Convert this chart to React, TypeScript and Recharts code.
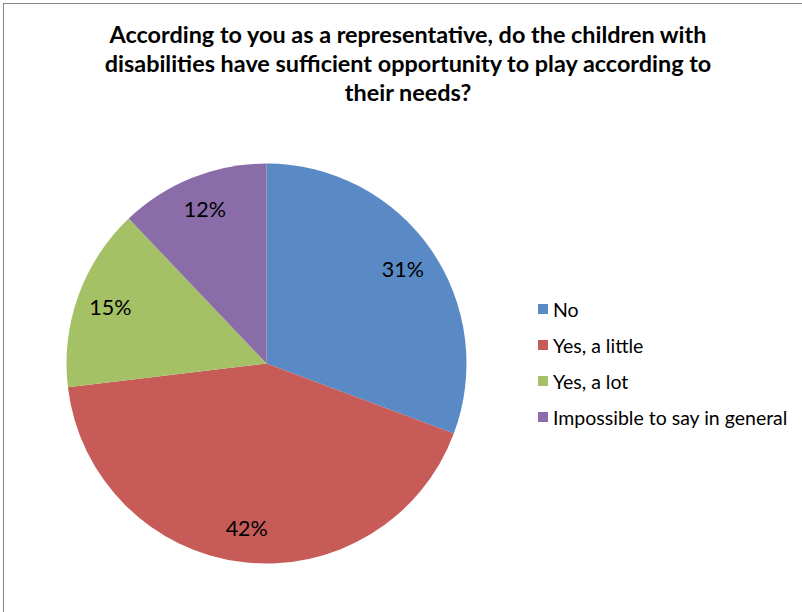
import { Legend, Pie, PieChart, Cell } from 'recharts';

const CATEGORIES = ['No', 'Yes, a little', 'Yes, a lot', 'Impossible to say in general'];
const SHARES = [30.7, 42.4, 14.8, 12.1];
const COLORS = ['#5A8AC6', '#C65B58', '#A4C165', '#8A6DA8'];

const TITLE_LINES = [
  'According to you as a representative, do the children with',
  'disabilities have sufficient opportunity to play according to',
  'their needs?',
];

const FONT = 'Lato, "Open Sans", sans-serif';
const RAD = Math.PI / 180;

const data = CATEGORIES.map((name, i) => ({ name, value: SHARES[i] }));

function renderLabel(props: any) {
  const { cx, cy, midAngle, percent } = props;
  const r = 166;
  const x = cx + r * Math.cos(-midAngle * RAD);
  const y = cy + r * Math.sin(-midAngle * RAD);
  return (
    <text x={x} y={y} textAnchor="middle" dominantBaseline="central" fill="#000" fontSize={21.5} fontFamily={FONT}>
      {Math.round(percent * 100)}%
    </text>
  );
}

function LegendList() {
  return (
    <div style={{ fontFamily: FONT, fontSize: 19.5, color: '#000' }}>
      {CATEGORIES.map((c, i) => (
        <div key={c} style={{ display: 'flex', alignItems: 'center', height: 36 }}>
          <span style={{ width: 10, height: 10, background: COLORS[i], marginRight: 5, display: 'inline-block' }} />
          <span>{c}</span>
        </div>
      ))}
    </div>
  );
}

export default function App() {
  return (
    <div style={{ position: 'relative', width: 802, height: 612, background: '#fff', overflow: 'hidden' }}>
      <style>{'body{margin:0}'}</style>
      <div
        style={{
          position: 'absolute',
          left: 3,
          top: 3,
          width: 820,
          height: 630,
          border: '1px solid #868686',
          boxSizing: 'border-box',
        }}
      />
      <div
        style={{
          position: 'absolute',
          left: 8,
          width: 800,
          top: 20,
          textAlign: 'center',
          fontFamily: FONT,
          fontWeight: 'bold',
          fontSize: 23.4,
          lineHeight: '29px',
          color: '#000',
        }}
      >
        {TITLE_LINES.map((l) => (
          <div key={l}>{l}</div>
        ))}
      </div>
      <div style={{ position: 'absolute', left: 0, top: 0 }}>
        <PieChart width={802} height={612} margin={{ top: 0, right: 0, bottom: 0, left: 0 }}>
          <Pie
            data={data}
            dataKey="value"
            nameKey="name"
            cx={266.5}
            cy={363.5}
            outerRadius={200}
            startAngle={90}
            endAngle={-270}
            stroke="none"
            label={renderLabel}
            labelLine={false}
            isAnimationActive={false}
          >
            {data.map((d, i) => (
              <Cell key={d.name} fill={COLORS[i]} />
            ))}
          </Pie>
          <Legend content={() => <LegendList />} wrapperStyle={{ left: 538, top: 291, width: 264, bottom: 'auto' }} />
        </PieChart>
      </div>
    </div>
  );
}
